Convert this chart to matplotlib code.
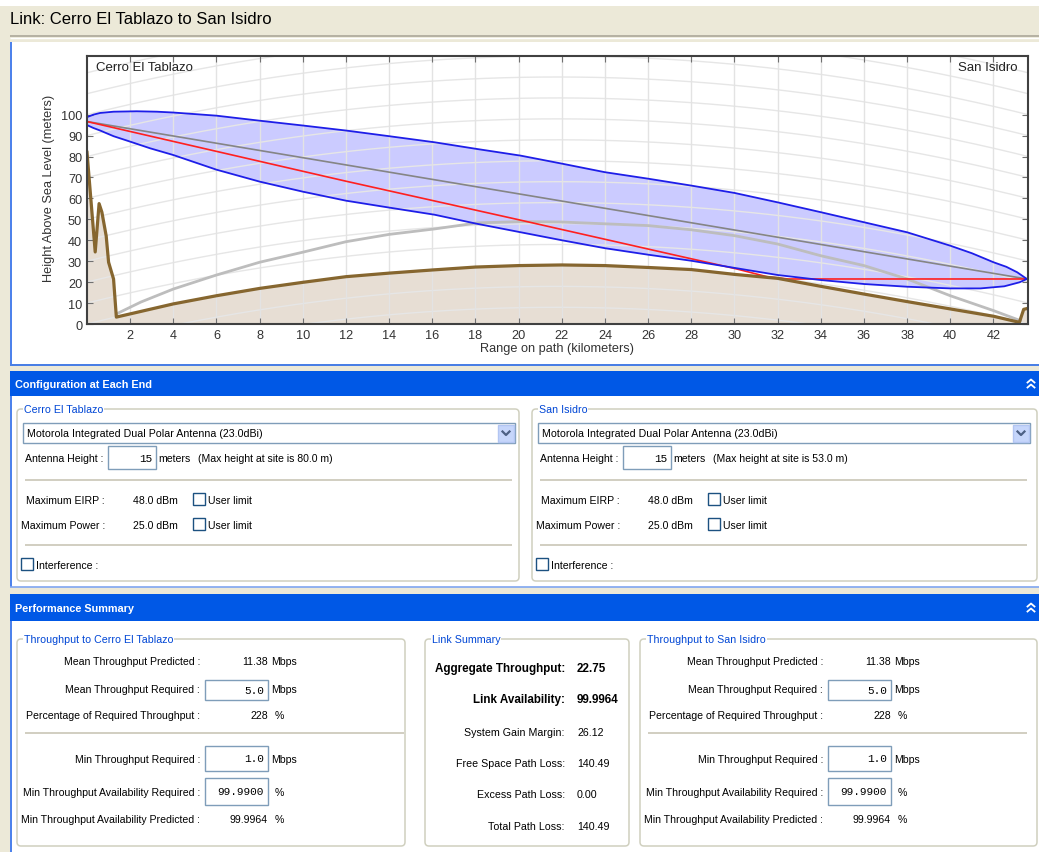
import matplotlib
matplotlib.use('Agg')
import matplotlib.pyplot as plt
import numpy as np
from matplotlib.patches import Rectangle, FancyBboxPatch

plt.rcParams['font.family'] = ['Liberation Sans', 'DejaVu Sans']

# ---- path profile (km, metres) ----
terrain_km = [0, 0.38, 0.56, 0.69, 0.89, 1.0, 1.23, 1.36, 4.0, 6.0, 8.0, 10.0, 12.0,
              14.0, 16.0, 18.0, 20.0, 22.0, 24.0, 26.0, 28.0, 30.0, 32.0, 34.0,
              36.0, 38.0, 40.0, 42.0, 43.2, 43.4, 43.6]
terrain_m = [82, 34.4, 57.5, 53.4, 42, 29.5, 21.5, 3.3, 9.6, 13.5, 17.0, 19.9, 22.6,
             24.3, 25.8, 27.2, 27.9, 28.2, 27.9, 27.0, 26.0, 23.7, 21.8, 18.0,
             14.3, 10.7, 7.2, 3.7, 0.8, 7.0, 7.5]

clearance_km = [1.4, 2.5, 4.0, 6.0, 8.0, 10.0, 12.0, 14.0, 16.1, 18.1, 20.1, 22.0,
                26.0, 28.0, 30.0, 32.0, 34.0, 36.0, 38.0, 40.0, 42.0, 43.25]
clearance_m = [5.0, 10.5, 16.7, 23.4, 29.5, 34.3, 39.3, 42.8, 45.4, 48.3, 48.9, 48.7,
               47.0, 45.0, 42.2, 38.2, 32.6, 27.9, 21.5, 13.5, 6.4, 1.6]

los_km = [0, 12.0, 20.0, 27.5, 30.1, 31.5, 32.5, 43.55]
los_m = [96.7, 68.2, 49.8, 32.3, 26.3, 22.6, 21.5, 21.5]

direct_km = [0, 43.55]
direct_m = [96.7, 21.5]

fresnel_top_km = [0, 0.3, 0.61, 1.23, 2.3, 3.24, 4.0, 6.0, 8.0, 10.0, 12.0, 14.0,
                  16.1, 18.0, 20.1, 22.0, 24.0, 26.0, 28.0, 30.0, 32.0, 34.0, 36.0,
                  38.0, 40.0, 41.0, 42.0, 42.6, 43.1, 43.55]
fresnel_top_m = [98.8, 100.0, 100.8, 101.4, 101.6, 101.4, 101.0, 99.5, 97.1, 94.8,
                 92.4, 89.7, 86.8, 83.7, 80.4, 76.6, 72.5, 69.4, 66.1, 62.6, 58.1,
                 53.4, 48.6, 43.8, 37.4, 33.8, 29.5, 27.3, 24.7, 21.5]
fresnel_bot_km = [0, 0.3, 0.61, 1.23, 2.0, 2.93, 4.0, 6.0, 8.0, 10.0, 12.0, 14.0,
                  16.1, 18.0, 20.1, 22.0, 24.0, 26.0, 28.0, 30.0, 32.0, 34.0, 36.0,
                  38.0, 40.0, 41.4, 42.5, 43.2, 43.55]
fresnel_bot_m = [95.0, 93.6, 92.4, 89.7, 87.1, 83.9, 80.7, 73.7, 68.0, 63.2, 58.9,
                 55.6, 52.2, 48.0, 43.8, 40.0, 36.2, 33.1, 30.2, 26.8, 23.4, 21.0,
                 19.1, 17.8, 17.0, 17.0, 18.0, 19.9, 21.5]

km_ticks = list(range(2, 44, 2))
m_ticks = list(range(0, 110, 10))

# ---- panel contents ----
link_title = 'Link: Cerro El Tablazo to San Isidro'
sites = ['Cerro El Tablazo', 'San Isidro']
antenna = 'Motorola Integrated Dual Polar Antenna (23.0dBi)'
antenna_height = ['15', '15']
max_site_height = ['80.0', '53.0']
max_eirp = ['48.0 dBm', '48.0 dBm']
max_power = ['25.0 dBm', '25.0 dBm']

tput_labels = ['Mean Throughput Predicted :', 'Mean Throughput Required :',
               'Percentage of Required Throughput :', 'Min Throughput Required :',
               'Min Throughput Availability Required :',
               'Min Throughput Availability Predicted :']
mean_predicted = ['11.38', '11.38']
mean_required = ['5.0', '5.0']
pct_required = ['228', '228']
min_required = ['1.0', '1.0']
min_avail_required = ['99.9900', '99.9900']
min_avail_predicted = ['99.9964', '99.9964']

summary_labels = ['Aggregate Throughput:', 'Link Availability:', 'System Gain Margin:',
                  'Free Space Path Loss:', 'Excess Path Loss:', 'Total Path Loss:']
summary_values = ['22.75', '99.9964', '26.12', '140.49', '0.00', '140.49']

W, H = 1039, 853
BEIGE = '#ECE9D8'
XP_BLUE = '#0058E6'
EDGE_BLUE = '#2A6AE8'
GROUP_EDGE = '#D0D0BF'
GROUP_TITLE = '#0046D5'
FIELD_EDGE = '#7F9DB9'
SEP = '#C9C6B6'
UI_FS = 7.6
CHART_FS = 9.2

fig = plt.figure(figsize=(W / 100, H / 100), dpi=100)
fig.patch.set_facecolor(BEIGE)

# one overlay axes in pixel units for the window chrome
ui = fig.add_axes([0, 0, 1, 1])
ui.set_xlim(0, W)
ui.set_ylim(H, 0)
ui.axis('off')


def box(x0, y0, x1, y1, fc='white', ec='none', lw=1.0, z=1):
    ui.add_patch(Rectangle((x0, y0), x1 - x0, y1 - y0, facecolor=fc,
                           edgecolor=ec, lw=lw, zorder=z))


def hline(x0, x1, y, color=SEP, lw=1.2, z=2):
    ui.plot([x0, x1], [y, y], color=color, lw=lw, zorder=z,
            solid_capstyle='butt')


def vline(x, y0, y1, color=EDGE_BLUE, lw=1.2, z=2):
    ui.plot([x, x], [y0, y1], color=color, lw=lw, zorder=z,
            solid_capstyle='butt')


def label(x, y, s, ha='left', size=UI_FS, **kw):
    ui.text(x, y, s, ha=ha, va='center', fontsize=size, zorder=5, **kw)


def group(x0, y0, x1, y1, title):
    ui.add_patch(FancyBboxPatch((x0, y0), x1 - x0, y1 - y0,
                                boxstyle='round,pad=0,rounding_size=4',
                                facecolor='white', edgecolor=GROUP_EDGE,
                                lw=1.1, zorder=2))
    ui.text(x0 + 7, y0, title, ha='left', va='center', fontsize=7.7,
            color=GROUP_TITLE, zorder=5,
            bbox=dict(facecolor='white', edgecolor='none', pad=0.6))


def field(x0, y0, x1, y1, value):
    box(x0, y0, x1, y1, fc='white', ec=FIELD_EDGE, lw=1.0, z=3)
    ui.text(x1 - 4, (y0 + y1) / 2, value, ha='right', va='center',
            fontsize=8, family='Liberation Mono', zorder=5)


def checkbox(x, y):
    box(x, y, x + 12, y + 12, fc='white', ec='#1C5180', lw=1.0, z=3)


def header(y0, y1, text):
    box(10, y0, W, y1, fc=XP_BLUE, z=2)
    label(15, (y0 + y1) / 2, text, size=7.8, color='white', fontweight='bold')
    cx, cy = 1031, (y0 + y1) / 2
    for dy in (-4, 1):
        ui.plot([cx - 3.5, cx, cx + 3.5], [cy + dy + 3, cy + dy, cy + dy + 3],
                color='white', lw=1.3, zorder=4)


# title strip
box(0, 0, W, 7, fc='white', z=0.5)
ui.text(10, 19, link_title, ha='left', va='center', fontsize=12, zorder=5)
hline(10, W, 37, color='#ACA899', lw=1.2)
hline(10, W, 38.5, color='white', lw=1.0)

# chart panel
box(10, 43, W, 365, fc='white', z=0.5)
vline(10.5, 43, 365)
hline(10, W, 365.5, color=EDGE_BLUE)

# configuration panel
header(372, 397, 'Configuration at Each End')
box(10, 397, W, 588, fc='white', z=0.5)
vline(10.5, 397, 588)
hline(10, W, 588, color='#7FA6F0')

for i, dx in enumerate([0, 515]):
    group(17 + dx, 410, 519 + dx if i == 0 else 1037, 582, sites[i])
    box(23 + dx, 424, 515 + dx, 444, fc='white', ec=FIELD_EDGE, z=3)
    label(27 + dx, 434, antenna, size=7.7)
    box(498 + dx, 426, 514 + dx, 443, fc='#C6D6FB', ec='#B3C6F2', z=4)
    ui.plot([502.5 + dx, 506 + dx, 509.5 + dx], [432.5, 436, 432.5],
            color='#4D6185', lw=1.6, zorder=5)
    label(25 + dx, 459, 'Antenna Height :')
    field(108 + dx, 447, 156 + dx, 470, antenna_height[i])
    label(158 + dx, 459, 'meters')
    label(198 + dx, 459, '(Max height at site is %s m)' % max_site_height[i])
    hline(25 + dx, 512 + dx, 481)
    label(105 + dx, 501, 'Maximum EIRP :', ha='right')
    label(178 + dx, 501, max_eirp[i], ha='right')
    checkbox(193 + dx, 494)
    label(208 + dx, 501, 'User limit')
    label(105 + dx, 526, 'Maximum Power :', ha='right')
    label(178 + dx, 526, max_power[i], ha='right')
    checkbox(193 + dx, 519)
    label(208 + dx, 526, 'User limit')
    hline(25 + dx, 512 + dx, 546)
    checkbox(21 + dx, 559)
    label(36 + dx, 566, 'Interference :')

# performance panel
header(595, 622, 'Performance Summary')
box(10, 622, W, H, fc='white', z=0.5)
vline(10.5, 622, H)

row_y = [662, 690, 716, 760, 793, 820]
for i, dx in enumerate([0, 623]):
    group(17 + dx, 640, 405 + dx if i == 0 else 1037, 847,
          'Throughput to ' + sites[i])
    for s, y in zip(tput_labels, row_y):
        label(200 + dx, y, s, ha='right')
    label(268 + dx, row_y[0], mean_predicted[i], ha='right')
    label(271 + dx, row_y[0], 'Mbps')
    field(205 + dx, 681, 268 + dx, 701, mean_required[i])
    label(271 + dx, row_y[1], 'Mbps')
    label(268 + dx, row_y[2], pct_required[i], ha='right')
    label(275 + dx, row_y[2], '%')
    hline(25 + dx, 404 + dx, 734)
    field(205 + dx, 747, 268 + dx, 772, min_required[i])
    label(271 + dx, row_y[3], 'Mbps')
    field(205 + dx, 779, 268 + dx, 806, min_avail_required[i])
    label(275 + dx, row_y[4], '%')
    label(268 + dx, row_y[5], min_avail_predicted[i], ha='right')
    label(275 + dx, row_y[5], '%')

group(425, 640, 629, 847, 'Link Summary')
summary_y = [669, 700, 733, 764, 795, 827]
for k, (s, v, y) in enumerate(zip(summary_labels, summary_values, summary_y)):
    if k < 2:
        label(565, y, s, ha='right', size=8.4, fontweight='bold')
        label(577, y, v, size=8.4, fontweight='bold')
    else:
        label(565, y, s, ha='right', size=7.7)
        label(577, y, v, size=7.7)

# ---- the profile chart ----
X_MAX, Y_MAX = 43.6, 128
ax = fig.add_axes([87 / W, 1 - 325 / H, (1028 - 87) / W, (325 - 57) / H])
ax.set_facecolor('white')
ax.set_xlim(0, X_MAX)
ax.set_ylim(0, Y_MAX)

# curved height grid (4/3 earth)
EARTH_K, EARTH_R_KM = 4 / 3, 6371.0
arc_x = np.linspace(0, X_MAX, 200)
arc_bulge = arc_x * (X_MAX - arc_x) / (2 * EARTH_K * EARTH_R_KM) * 1000
for h in range(-30, 140, 10):
    ax.plot(arc_x, h + arc_bulge, color='#E6E6E6', lw=1.0, zorder=1.5)
for k in km_ticks:
    ax.axvline(k, color='#E3E3E3', lw=1.0, zorder=1.5)

ax.fill_between(terrain_km, terrain_m, 0, color='#E7DED4', lw=0, zorder=1)

poly_x = fresnel_top_km + fresnel_bot_km[::-1]
poly_y = fresnel_top_m + fresnel_bot_m[::-1]
ax.fill(poly_x, poly_y, facecolor='#7F7FFF', alpha=0.4, lw=0, zorder=1.2)

ax.plot(clearance_km, clearance_m, color='#BDBDBD', lw=2.0, zorder=2)
ax.plot(direct_km, direct_m, color='#858585', lw=1.2, zorder=2.2)
ax.plot(los_km, los_m, color='#FF2020', lw=1.2, zorder=2.4)
ax.plot(fresnel_top_km, fresnel_top_m, color='#1E1EE8', lw=1.3, zorder=2.6)
ax.plot(fresnel_bot_km, fresnel_bot_m, color='#1E1EE8', lw=1.3, zorder=2.6)
ax.plot(terrain_km, terrain_m, color='#86662F', lw=2.3, zorder=3,
        solid_joinstyle='round')

ax.set_xticks(km_ticks)
ax.set_yticks(m_ticks)
ax.tick_params(direction='in', length=4, width=0.8, color='#707070',
               labelsize=CHART_FS, labelcolor='#333333', pad=3.5,
               top=True, right=True)
for sp in ax.spines.values():
    sp.set_color('#404040')
    sp.set_linewidth(1.5)
    sp.set_zorder(4)

ax.set_xlabel('Range on path (kilometers)', fontsize=CHART_FS, color='#333333')
ax.set_ylabel('Height Above Sea Level (meters)', fontsize=CHART_FS, color='#333333')
ax.xaxis.set_label_coords(0.4995, -0.066)
ax.yaxis.set_label_coords(-0.034, 0.51)

ax.text(0.0096, 0.959, sites[0], transform=ax.transAxes, ha='left',
        va='center', fontsize=9.5, color='#222222', zorder=5)
ax.text(0.989, 0.959, sites[1], transform=ax.transAxes, ha='right',
        va='center', fontsize=9.5, color='#222222', zorder=5)

fig.savefig('out.png', dpi=100, facecolor=fig.get_facecolor())
